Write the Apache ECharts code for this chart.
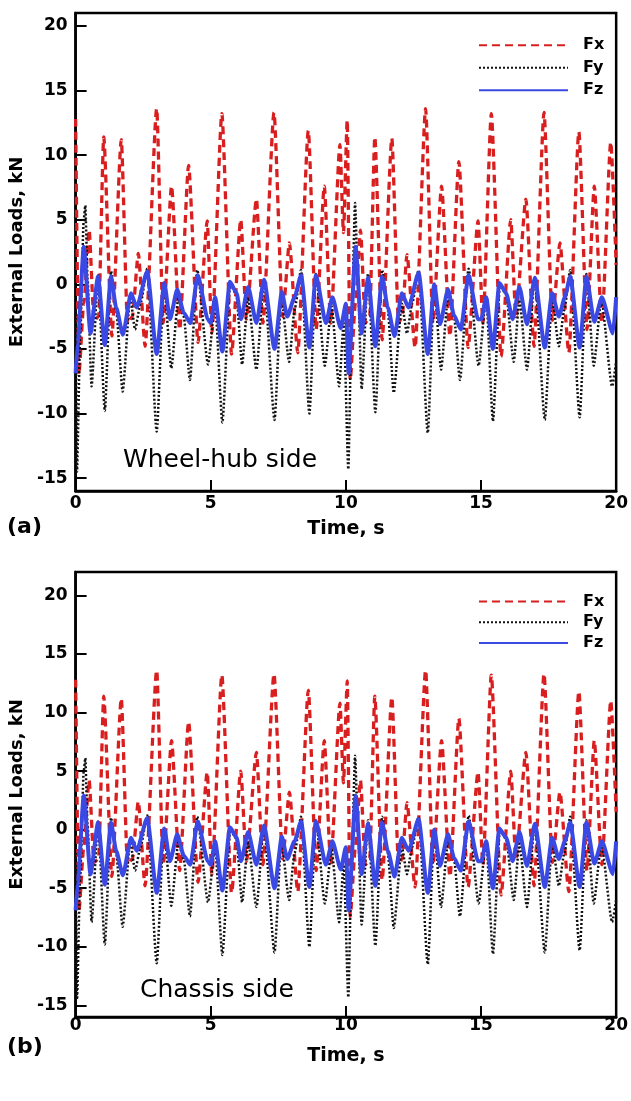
<!DOCTYPE html>
<html><head><meta charset="utf-8">
<script src="https://cdn.jsdelivr.net/npm/echarts@6/dist/echarts.min.js"></script>
<style>html,body{margin:0;padding:0;background:#fff}#c{width:631px;height:1101px}</style>
</head><body><div id="c"></div>
<script>
const xTicks = [0, 5, 10, 15, 20];
const yTicks = [-15, -10, -5, 0, 5, 10, 15, 20];
const seriesNames = ['Fx', 'Fy', 'Fz'];
const panelLabels = ['(a)', '(b)'];
const panelNotes = ['Wheel-hub side', 'Chassis side'];
const xTitle = 'Time, s';
const yTitle = 'External Loads, kN';

// [time s, load kN]
const fx = [
[0,12.8],[0.12,-7.0],[0.3,-1.5],[0.5,4.2],[0.68,-2.8],[0.85,-2.5],[1.04,11.4],[1.34,-4.0],[1.69,11.2],[1.92,-3.0],[2.1,-2.5],[2.32,2.4],[2.57,-4.8],[3.0,13.6],[3.24,-3.0],[3.55,7.6],[3.85,-3.5],[4.18,9.2],[4.53,-4.5],[4.87,4.9],[5.04,-3.8],[5.41,13.2],[5.77,-5.4],[6.11,5.0],[6.32,-2.7],[6.69,6.6],[6.93,-3.0],[7.34,13.3],[7.66,-2.5],[7.91,3.2],[8.22,-5.3],[8.61,11.9],[8.9,-3.5],[9.2,7.6],[9.44,-3.0],[9.78,10.8],[9.91,4.0],[10.05,12.7],[10.16,-7.4],[10.35,-1.5],[10.54,4.2],[10.72,-3.0],[10.88,-2.5],[11.07,11.4],[11.34,-4.3],[11.7,11.3],[11.95,-3.0],[12.08,-2.5],[12.26,2.3],[12.56,-4.9],[12.95,13.6],[13.22,-3.0],[13.54,7.6],[13.85,-4.0],[14.18,9.5],[14.52,-4.9],[14.89,4.9],[15.07,-3.0],[15.38,13.2],[15.74,-5.6],[16.1,5.0],[16.29,-2.5],[16.66,6.6],[16.96,-4.8],[17.33,13.3],[17.64,-2.8],[17.92,3.2],[18.25,-5.3],[18.62,11.8],[18.92,-3.5],[19.19,7.6],[19.47,-3.0],[19.8,11.0],[20,1.5]
];
const fy = [
[0,-2],[0.05,-14.5],[0.17,-4],[0.3,5],[0.36,6.1],[0.44,0.5],[0.59,-7.9],[0.83,0.7],[1.08,-9.8],[1.31,1.0],[1.5,-2],[1.74,-8.3],[2.02,-1.0],[2.2,-3.5],[2.4,-1.5],[2.65,1.2],[3.0,-11.4],[3.27,0.1],[3.54,-6.5],[3.8,-1.1],[4.0,-2.5],[4.23,-7.4],[4.5,1.1],[4.9,-6.2],[5.16,-1.5],[5.43,-10.7],[5.72,0],[5.95,-0.8],[6.16,-6.2],[6.38,-1.0],[6.69,-6.6],[6.97,0.3],[7.36,-10.5],[7.61,-1.0],[7.9,-6.0],[8.1,-2],[8.34,1.1],[8.65,-10.0],[8.89,0.8],[9.22,-6.3],[9.47,-1.7],[9.75,-7.9],[9.92,-3.0],[10.09,-14.3],[10.2,-4],[10.34,6.3],[10.44,0.5],[10.58,-8.1],[10.82,0.8],[11.09,-9.9],[11.34,1.1],[11.55,-2],[11.77,-8.4],[12.07,-1.5],[12.26,-3.8],[12.45,-1.5],[12.69,1.1],[13.03,-11.5],[13.27,0],[13.52,-6.6],[13.78,-1.0],[14.0,-2.5],[14.22,-7.4],[14.54,1.2],[14.91,-6.3],[15.19,-1.0],[15.44,-10.6],[15.7,0],[15.93,-0.8],[16.21,-6.0],[16.42,-1.2],[16.70,-6.6],[16.99,0.5],[17.36,-10.5],[17.63,-1.0],[17.88,-4.8],[18.08,-2],[18.3,1.1],[18.65,-10.3],[18.9,0.8],[19.17,-6.3],[19.45,-1.2],[19.85,-7.9],[20,-6.0]
];
const fz = [
[0,-6.9],[0.08,-4.5],[0.3,2.9],[0.55,-3.8],[0.83,0.6],[1.08,-4.7],[1.31,0.6],[1.5,-1.8],[1.75,-3.9],[2.05,-0.7],[2.26,-1.8],[2.65,1.0],[3.0,-5.4],[3.28,0.1],[3.49,-2.7],[3.76,-0.4],[4.0,-2.2],[4.24,-3.0],[4.52,0.7],[4.89,-2.7],[5.0,-3.0],[5.16,-1.0],[5.43,-5.2],[5.71,0.2],[5.96,-0.7],[6.12,-2.7],[6.38,-0.2],[6.69,-3.0],[6.97,0.35],[7.36,-5.0],[7.63,-0.6],[7.83,-2.5],[8.1,-1.0],[8.34,0.7],[8.65,-4.9],[8.89,0.7],[9.26,-3.0],[9.5,-1.0],[9.81,-3.4],[10.0,-1.5],[10.1,-6.9],[10.36,2.9],[10.58,-3.8],[10.82,0.5],[11.09,-4.8],[11.34,0.6],[11.55,-1.8],[11.8,-4.0],[12.07,-0.7],[12.32,-1.8],[12.69,0.9],[13.03,-5.4],[13.27,0],[13.48,-3.1],[13.78,-0.4],[14.0,-2.4],[14.25,-3.5],[14.54,0.7],[14.89,-2.7],[15.01,-2.7],[15.19,-1.0],[15.44,-5.0],[15.68,0.1],[15.93,-0.7],[16.17,-2.7],[16.42,-0.2],[16.70,-3.1],[16.99,0.5],[17.36,-4.9],[17.63,-0.7],[17.88,-2.5],[18.1,-1.0],[18.3,0.6],[18.65,-4.9],[18.9,0.6],[19.19,-2.9],[19.47,-1.0],[19.88,-3.8],[20,-1.0]
];

const FONT = '"DejaVu Sans", sans-serif';
const RED = '#d81e1e', BLUE = '#3a48e4', BLACK = '#111';
const panels = [
  {top: 13, height: 478, ymin: -16, ymax: 21, legTop: 29, legGap: 22.5, labMargin: 4, nameGap: 29, tagY: 527, noteX: 123, noteY: 460},
  {top: 572, height: 445, ymin: -16, ymax: 22, legTop: 586, legGap: 20.8, labMargin: 0, nameGap: 30, tagY: 1047, noteX: 140, noteY: 990}
];

const grid = [], xAxis = [], yAxis = [], series = [], legend = [], graphic = [];
panels.forEach((p, i) => {
  grid.push({left: 72.7, top: p.top, width: 545, height: p.height, show: true, borderColor: '#000', borderWidth: 2.5, backgroundColor: 'transparent'});
  xAxis.push({
    type: 'value', gridIndex: i, min: xTicks[0], max: xTicks[xTicks.length - 1], interval: 5,
    axisLine: {show: true, onZero: false, lineStyle: {color: '#000', width: 2.5}},
    axisTick: {show: true, inside: true, length: 11, lineStyle: {color: '#000', width: 2}},
    axisLabel: {color: '#000', fontFamily: FONT, fontWeight: 'bold', fontSize: 17, margin: p.labMargin},
    splitLine: {show: false},
    name: xTitle, nameLocation: 'middle', nameGap: p.nameGap,
    nameTextStyle: {color: '#000', fontFamily: FONT, fontWeight: 'bold', fontSize: 19}
  });
  yAxis.push({
    type: 'value', gridIndex: i, min: p.ymin, max: p.ymax,
    axisLine: {show: true, onZero: false, lineStyle: {color: '#000', width: 2.5}},
    axisTick: {show: true, inside: true, length: 11, customValues: yTicks, lineStyle: {color: '#000', width: 2}},
    axisLabel: {color: '#000', fontFamily: FONT, fontWeight: 'bold', fontSize: 17, margin: 8, customValues: yTicks},
    splitLine: {show: false},
    name: yTitle, nameLocation: 'middle', nameGap: 32,
    nameTextStyle: {color: '#000', fontFamily: FONT, fontWeight: 'bold', fontSize: 18}
  });
  const common = {type: 'line', xAxisIndex: i, yAxisIndex: i, symbol: 'none', legendIcon: 'none', smooth: 0.2, smoothMonotone: 'x', clip: true};
  series.push(Object.assign({}, common, {name: seriesNames[0], data: fx, z: 2, itemStyle: {color: RED}, lineStyle: {color: RED, width: 3.3, type: [8, 5]}}));
  series.push(Object.assign({}, common, {name: seriesNames[1], data: fy, z: 3, itemStyle: {color: BLACK}, lineStyle: {color: BLACK, width: 2.5, type: [2, 2]}}));
  series.push(Object.assign({}, common, {name: seriesNames[2], data: fz, z: 4, itemStyle: {color: BLUE}, lineStyle: {color: BLUE, width: 4}}));
  legend.push({
    data: seriesNames, orient: 'vertical', left: 473, top: p.legTop, itemWidth: 89, itemHeight: 12, itemGap: 0,
    selectedMode: false,
    itemStyle: {opacity: 0},
    textStyle: {color: '#000', fontFamily: FONT, fontWeight: 'bold', fontSize: 16, lineHeight: p.legGap, padding: [0, 0, 0, 10]}
  });
  graphic.push({type: 'text', x: 7, y: p.tagY, style: {text: panelLabels[i], fill: '#000', font: 'bold 22px ' + FONT, verticalAlign: 'middle'}});
  graphic.push({type: 'text', x: p.noteX, y: p.noteY, style: {text: panelNotes[i], fill: '#000', font: '25px ' + FONT, verticalAlign: 'middle'}});
});

const chart = echarts.init(document.getElementById('c'), null, {renderer: 'canvas'});
chart.setOption({animation: false, backgroundColor: '#fff', grid, xAxis, yAxis, series, legend, graphic});
</script></body></html>
